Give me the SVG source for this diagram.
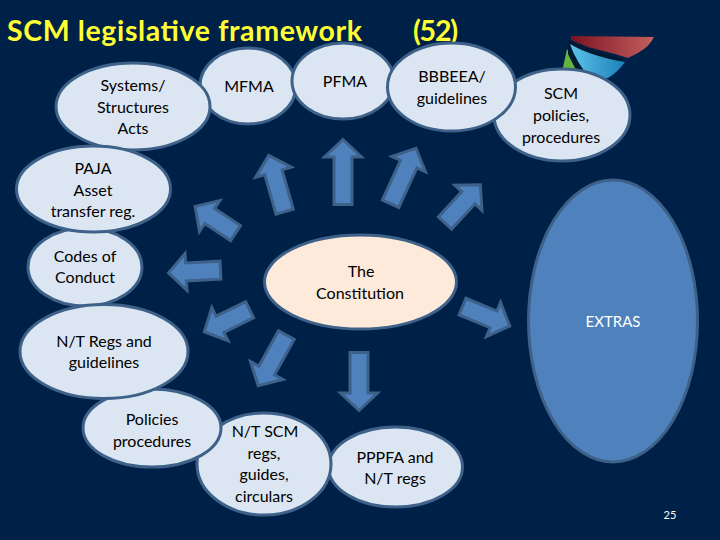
<svg xmlns="http://www.w3.org/2000/svg" width="720" height="540" viewBox="0 0 720 540">
<style>
text{font-family:"Lato","Open Sans","Liberation Sans",sans-serif;font-size:16px;fill:#000;text-anchor:middle}
.title{font-size:28.5px;font-weight:700;fill:#ffff33;text-anchor:start}
.n{fill:#dce6f2;stroke:#3d6188;stroke-width:3}
.a{fill:#4f81bd;stroke:#3d6188;stroke-width:3;stroke-linejoin:miter}
.w{fill:#fff}
</style>
<defs>
<linearGradient id="red" x1="0" x2="1" y1="0" y2="0"><stop offset="0" stop-color="#7d1222"/><stop offset="1" stop-color="#c2605f"/></linearGradient>
<linearGradient id="blue" x1="0" x2="1" y1="0" y2="0"><stop offset="0" stop-color="#5ec3ea"/><stop offset="1" stop-color="#1a80b8"/></linearGradient>
</defs>
<rect width="720" height="540" fill="#002147"/>
<text class="title" x="7" y="41" textLength="355" lengthAdjust="spacing">SCM legislative framework</text>
<text class="title" x="413" y="41" textLength="45" lengthAdjust="spacing">(52)</text>
<g id="logo">
<path d="M562 72 L567 49 L574 60 L592 76 L580 80 Z" fill="#63b33f"/>
<path d="M568 40 L588 48 L625 60 L618 66 L590 60 L574 52 L586 74 L578 74 L568 54 Z" fill="#001a33"/>
<path d="M570 44 Q590 56 625 62 Q618 72 608 78 L590 78 Q576 62 570 44 Z" fill="url(#blue)"/>
<path d="M571 36 L654 37 Q650 46 638 53 L628 58 L615 54 L588 47 L571 40 Z" fill="url(#red)"/>
</g>
<g id="connectors">
<polygon class="a" transform="translate(343 137)" points="0,2.5 18.5,20 9,20 9,67.500 -9,67.500 -9,20 -18.5,20"/>
<polygon class="a" transform="translate(268 153) rotate(-15.8)" points="0,2.5 18.5,20 9,20 9,61 -9,61 -9,20 -18.5,20"/>
<polygon class="a" transform="translate(417 146) rotate(24.6)" points="0,2.5 18.5,20 9,20 9,63.500 -9,63.500 -9,20 -18.5,20"/>
<polygon class="a" transform="translate(482 183) rotate(42.800)" points="0,2.5 18.5,20 9,20 9,54.500 -9,54.500 -9,20 -18.5,20"/>
<polygon class="a" transform="translate(193 205) rotate(-56.600)" points="0,2.5 18.5,20 9,20 9,51 -9,51 -9,20 -18.5,20"/>
<polygon class="a" transform="translate(166 273) rotate(-93)" points="0,2.5 18.5,20 9,20 9,54.500 -9,54.500 -9,20 -18.5,20"/>
<polygon class="a" transform="translate(202 333) rotate(-116)" points="0,2.5 18.5,20 9,20 9,53 -9,53 -9,20 -18.5,20"/>
<polygon class="a" transform="translate(257 388) rotate(-151)" points="0,2.5 18.5,20 9,20 9,60.500 -9,60.500 -9,20 -18.5,20"/>
<polygon class="a" transform="translate(359 413) rotate(180)" points="0,2.5 18.5,20 9,20 9,60.500 -9,60.500 -9,20 -18.5,20"/>
<polygon class="a" transform="translate(512 327) rotate(112.400)" points="0,2.5 18.5,20 9,20 9,53.500 -9,53.500 -9,20 -18.5,20"/>
</g>
<g id="constitution">
<ellipse class="n" style="fill:#fdeada" cx="360.500" cy="282" rx="96" ry="47"/>
<text x="361" y="277">The</text><text x="360" y="299">Constitution</text>
</g>
<g id="extras">
<ellipse class="n" style="fill:#4f81bd" cx="613" cy="321" rx="84.500" ry="141"/>
<text class="w" style="font-size:15px" x="613" y="327">EXTRAS</text>
</g>
<g id="pppfa">
<ellipse class="n" cx="395.500" cy="467" rx="67" ry="40"/>
<text x="395" y="463">PPPFA and</text><text x="395" y="484">N/T regs</text>
</g>
<g id="ntscm">
<ellipse class="n" cx="264" cy="464" rx="67" ry="51"/>
<text x="265" y="437">N/T SCM</text><text x="264" y="459">regs,</text><text x="264" y="480">guides,</text><text x="264" y="502">circulars</text>
</g>
<g id="policies">
<ellipse class="n" cx="152" cy="428" rx="69" ry="39"/>
<text x="152" y="425">Policies</text><text x="152" y="447">procedures</text>
</g>
<g id="codes">
<ellipse class="n" cx="85" cy="267" rx="57" ry="39"/>
<text x="85" y="262">Codes of</text><text x="85" y="283">Conduct</text>
</g>
<g id="ntregs">
<ellipse class="n" cx="104" cy="351.500" rx="84" ry="47"/>
<text x="104" y="347">N/T Regs and</text><text x="104" y="368">guidelines</text>
</g>
<g id="mfma">
<ellipse class="n" cx="248" cy="86" rx="48" ry="38"/>
<text x="249" y="92">MFMA</text>
</g>
<g id="systems">
<ellipse class="n" cx="133" cy="106.500" rx="77" ry="43.500"/>
<text x="133" y="91">Systems/</text><text x="133" y="113">Structures</text><text x="133" y="134">Acts</text>
</g>
<g id="paja">
<ellipse class="n" cx="93.500" cy="189" rx="77" ry="43"/>
<text x="93" y="174">PAJA</text><text x="93" y="196">Asset</text><text x="93" y="217">transfer reg.</text>
</g>
<g id="pfma">
<ellipse class="n" cx="343" cy="81" rx="51" ry="38"/>
<text x="345" y="87">PFMA</text>
</g>
<g id="scm">
<ellipse class="n" cx="562" cy="115" rx="68" ry="46"/>
<text x="561" y="99">SCM</text><text x="561" y="121">policies,</text><text x="561" y="143">procedures</text>
</g>
<g id="bbbeea">
<ellipse class="n" cx="451.500" cy="87" rx="64" ry="44"/>
<text x="452" y="82">BBBEEA/</text><text x="452" y="104">guidelines</text>
</g>
<text class="w" style="font-size:11px" x="670" y="519">25</text>
</svg>
